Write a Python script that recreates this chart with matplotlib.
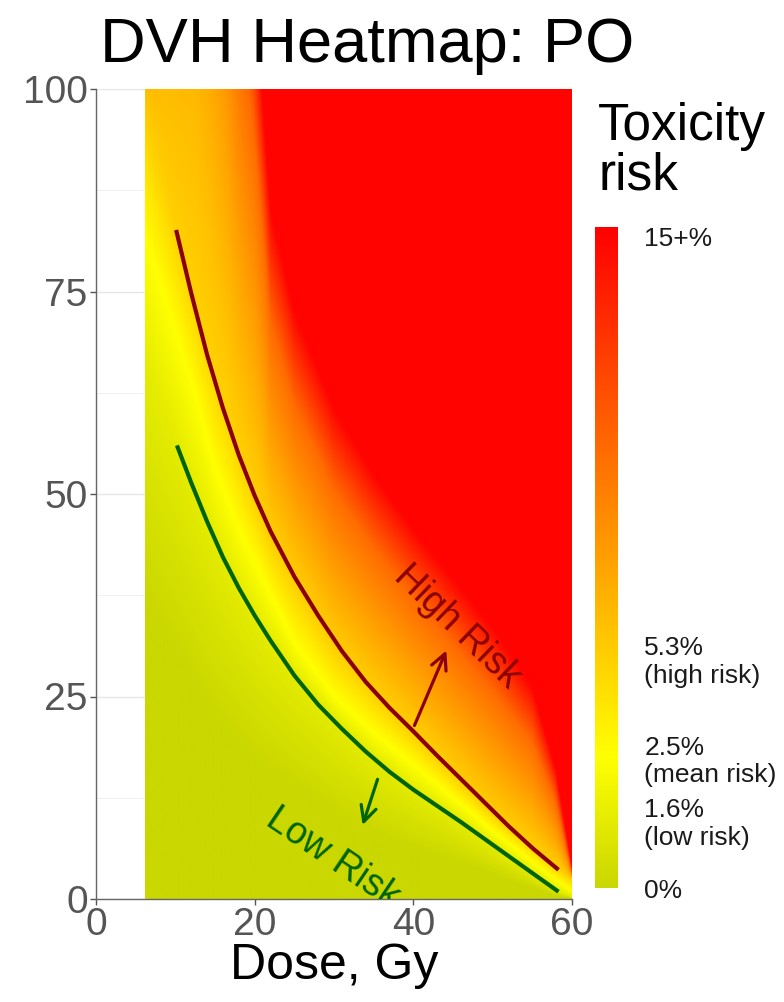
import numpy as np
import matplotlib.pyplot as plt
from matplotlib.colors import LinearSegmentedColormap, FuncNorm

plt.rcParams["font.family"] = ["Liberation Sans", "DejaVu Sans"]

# --- data ---
# drawn risk curves (dose Gy, volume %)
high_dose = [10.1, 12, 14, 16, 18, 20, 22, 25, 28, 31, 34, 37, 40, 43, 46, 49, 52, 55, 58.3]
high_vol = [82.6, 74.8, 67.2, 60.6, 54.8, 49.8, 45.4, 39.8, 35.0, 30.6, 26.8, 23.6, 20.7,
            17.7, 14.8, 11.9, 9.0, 6.3, 3.6]
low_dose = [10.2, 12, 14, 16, 18, 20, 22, 25, 28, 31, 34, 37, 40, 43, 46, 49, 52, 55, 58.3]
low_vol = [56.0, 51.4, 46.6, 42.2, 38.4, 35.0, 31.9, 27.6, 24.0, 21.0, 18.2, 15.7, 13.5,
           11.5, 9.5, 7.4, 5.3, 3.2, 0.9]

# iso-risk lines of the heatmap, volume at each dose of iso_dose
risk_levels = [0, 1.6, 2.5, 5.3, 10, 15]
iso_dose = [6, 8, 10, 12.5, 15, 18, 20, 22, 25, 30, 35, 40, 45, 50, 55, 58, 60]
iso_0 = [36, 33, 30, 26, 22, 19, 17, 15.5, 13.5, 10.5, 8, 6, 4.5, 2.8, 1.2, 0.3, 0]
iso_16 = [66, 61, 56.5, 50, 44.3, 38.5, 35, 32, 27.9, 22.4, 17.6, 13.6, 10.3, 6.7, 3.2, 1.1, 0.2]
iso_25 = [82, 76, 70, 62, 53, 45.5, 41.5, 37.5, 31.5, 25, 20.5, 16.5, 12.5, 8.4, 4.6, 2.3, 1.0]
iso_53 = [97, 90, 83, 74.5, 65.5, 55.5, 49.5, 44.5, 39, 31, 25.5, 20.5, 15.5, 10.5, 6.3, 3.9, 2.4]
iso_10 = [115, 140, 165, 185, 150, 108, 93, 70.8, 60.8, 50.2, 43.1, 36.9, 31.2, 25.5, 19.2, 11.8, 3.2]
iso_15 = [200, 220, 240, 260, 220, 160, 112, 85, 72.5, 60.6, 52.5, 45.7, 39.6, 33.5, 26.2, 16, 4.0]
dose_min = 6.2

# colour bar
cbar_ticks = [0, 1.6, 2.5, 5.3, 15]
cbar_labels = ["0%", "1.6%\n(low risk)", "2.5%\n(mean risk)", "5.3%\n(high risk)", "15+%"]
cbar_pos = [0, 0.104, 0.198, 0.348, 0.985, 1.0]
cbar_vals = [0, 1.6, 2.5, 5.3, 15, 15.23]

# --- field ---
dose_cols = np.linspace(dose_min, 60, 540)
vol_rows = np.linspace(0, 100, 800)
iso = [iso_0, iso_16, iso_25, iso_53, iso_10, iso_15]
field = np.empty((len(vol_rows), len(dose_cols)))
for j, d in enumerate(dose_cols):
    vols = [np.interp(d, iso_dose, row) for row in iso]
    field[:, j] = np.interp(vol_rows, vols, risk_levels)

cmap = LinearSegmentedColormap.from_list(
    "tox", [(0, "#CAD700"), (0.198, "#FFFF00"), (1, "#FF0000")])
norm = FuncNorm((lambda x: np.interp(x, cbar_vals, cbar_pos),
                 lambda y: np.interp(y, cbar_pos, cbar_vals)), vmin=0, vmax=15.23)

fig = plt.figure(figsize=(7.84, 10.02), dpi=100)
ax = fig.add_axes([96 / 784, 103 / 1002, 476 / 784, 810 / 1002])

im = ax.imshow(field, extent=[dose_min, 60, 0, 100], origin="lower", aspect="auto",
               cmap=cmap, norm=norm, interpolation="bilinear", zorder=1)

ax.plot(high_dose, high_vol, color="#8B0000", lw=3.0, zorder=3, solid_capstyle="butt")
ax.plot(low_dose, low_vol, color="#006400", lw=3.0, zorder=3, solid_capstyle="butt")

ax.annotate("", xy=(44.3, 31.0), xytext=(40.0, 21.1),
            arrowprops=dict(arrowstyle="->", color="#8B0000", lw=2.3, mutation_scale=28), zorder=4)
ax.annotate("", xy=(33.5, 8.8), xytext=(35.6, 15.1),
            arrowprops=dict(arrowstyle="->", color="#006400", lw=2.3, mutation_scale=28), zorder=4)
ax.text(45.5, 33.6, "High Risk", rotation=-44, color="#8B0000", fontsize=27,
        ha="center", va="center", rotation_mode="anchor", zorder=4)
ax.text(29.8, 5.0, "Low Risk", rotation=-34, color="#006400", fontsize=27,
        ha="center", va="center", rotation_mode="anchor", zorder=4, clip_on=True)

ax.set_xlim(0, 60)
ax.set_ylim(0, 100)
ax.set_xticks([0, 20, 40, 60])
ax.set_yticks([0, 25, 50, 75, 100])
ax.set_xticks(np.arange(10, 60, 20), minor=True)
ax.set_yticks(np.arange(12.5, 100, 25), minor=True)
ax.grid(which="major", color="#E6E6E6", lw=1.0, zorder=0)
ax.grid(which="minor", color="#F0F0F0", lw=0.7, zorder=0)
ax.set_axisbelow(True)
ax.tick_params(which="major", labelsize=28, labelcolor="#555555", color="#555555",
               length=4, width=1, pad=2)
ax.tick_params(which="minor", length=0)
for s in ["top", "right"]:
    ax.spines[s].set_visible(False)
for s in ["left", "bottom"]:
    ax.spines[s].set_color("#666666")
    ax.spines[s].set_linewidth(1)
ax.set_xlabel("Dose, Gy", fontsize=36, labelpad=0)

fig.text(100 / 784, 1 - 62 / 1002, "DVH Heatmap: PO", fontsize=45.5, va="baseline", ha="left")

cax = fig.add_axes([595 / 784, 114 / 1002, 23 / 784, 661 / 1002])
cb = fig.colorbar(im, cax=cax)
cb.outline.set_visible(False)
cb.set_ticks(cbar_ticks)
cb.set_ticklabels(cbar_labels)
cax.tick_params(length=0, labelsize=19, pad=19, labelcolor="#1A1A1A")
cax.minorticks_off()
fig.text(598 / 784, 1 - 140 / 1002, "Toxicity", fontsize=37, va="baseline", ha="left")
fig.text(598 / 784, 1 - 190 / 1002, "risk", fontsize=37, va="baseline", ha="left")

fig.savefig("out.png", dpi=100)
